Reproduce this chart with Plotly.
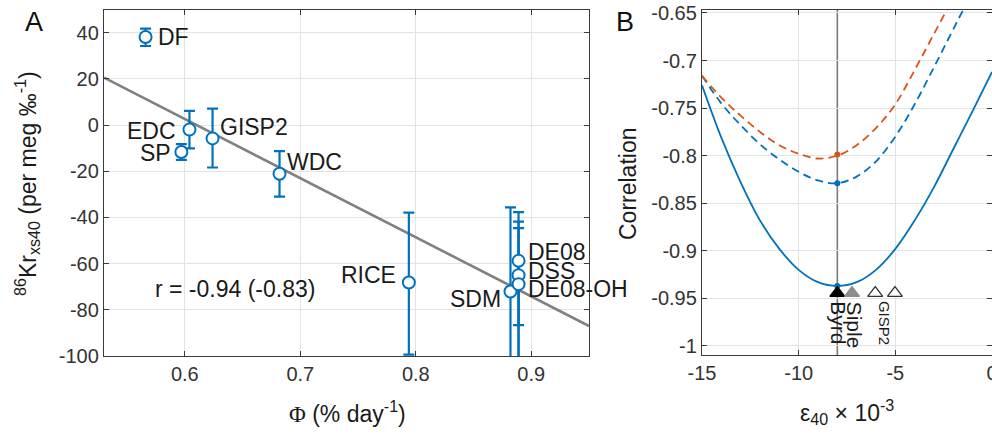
import plotly.graph_objects as go

# ---------------- data: panel A ----------------
sites = ["DF", "EDC", "SP", "GISP2", "WDC", "RICE", "SDM", "DE08", "DSS", "DE08-OH"]
phi = [0.566, 0.604, 0.597, 0.624, 0.682, 0.794, 0.882, 0.889, 0.889, 0.889]
kr_xs = [38.1, -2.0, -11.7, -5.8, -21.1, -68.2, -72.1, -58.8, -65.0, -68.9]
err_plus = [3.6, 8.1, 3.4, 12.9, 9.8, 30.3, 36.4, 21.1, 20.4, 27.1]
err_minus = [3.9, 8.1, 3.4, 12.6, 9.9, 31.2, 36.4, 45.0, 21.6, 35.0]
fit_slope = -256.0
fit_intercept = 156.2
r_text = "r = -0.94 (-0.83)"

# ---------------- data: panel B ----------------
eps = [-15, -14, -13, -12, -11, -10, -9, -8, -7, -6, -5, -4, -3, -2, -1, 0]
corr_solid = [-0.726, -0.781, -0.828, -0.868, -0.898, -0.920, -0.933, -0.937,
              -0.933, -0.920, -0.898, -0.868, -0.833, -0.793, -0.753, -0.712]
eps_dash_blue = [-15, -14, -13, -12, -11, -10, -9, -8, -7, -6, -5, -4, -3, -2, -1]
corr_dash_blue = [-0.716, -0.745, -0.768, -0.788, -0.804, -0.817, -0.826, -0.829,
                  -0.822, -0.806, -0.780, -0.746, -0.707, -0.667, -0.627]
eps_dash_orange = [-15, -14, -13, -12, -11, -10, -9, -8, -7, -6, -5, -4, -3, -2]
corr_dash_orange = [-0.716, -0.739, -0.758, -0.775, -0.789, -0.798, -0.803, -0.800,
                    -0.789, -0.771, -0.746, -0.710, -0.672, -0.634]
eps_best = -8.0
best_solid = -0.937
best_dash_blue = -0.829
best_dash_orange = -0.7988
station_names = ["Byrd", "Siple", "GISP2", ""]
station_eps = [-8.0, -7.24, -6.04, -5.02]
station_level = -0.9445

# tick labels
a_xticks = [0.6, 0.7, 0.8, 0.9]
a_yticks = [-100, -80, -60, -40, -20, 0, 20, 40]
b_xticks = [-15, -10, -5, 0]
b_yticks = [-1, -0.95, -0.9, -0.85, -0.8, -0.75, -0.7, -0.65]

# ---------------- style / layout ----------------
BLUE = "#0072BD"
ORANGE = "#D95319"
AXC = "#3a3a3a"
GRID = "#e3e3e3"
FONT = "Liberation Sans, Arial, sans-serif"
A_XRANGE = [0.53, 0.95]
A_YRANGE = [-100, 50]
B_XRANGE = [-15, 0]
B_YRANGE = [-1.0095, -0.6464]

W, H = 992, 438


def fx(px):
    return px / W


def fy(py):
    return 1 - py / H


def fmt(v):
    return "%g" % v


fig = go.Figure()

fig.add_trace(go.Scatter(
    x=A_XRANGE, y=[fit_intercept + fit_slope * v for v in A_XRANGE],
    mode="lines", line=dict(color="#808080", width=2.6),
    xaxis="x", yaxis="y", hoverinfo="skip", showlegend=False))

fig.add_trace(go.Scatter(
    x=phi, y=kr_xs, mode="markers",
    error_y=dict(type="data", symmetric=False, array=err_plus, arrayminus=err_minus,
                 color=BLUE, thickness=2.2, width=5.5),
    marker=dict(size=12, color="white", line=dict(color=BLUE, width=2)),
    xaxis="x", yaxis="y", showlegend=False))

fig.add_trace(go.Scatter(x=eps, y=corr_solid, mode="lines",
                         line=dict(color=BLUE, width=1.8, shape="spline", smoothing=1.0),
                         xaxis="x2", yaxis="y2", showlegend=False))
fig.add_trace(go.Scatter(x=eps_dash_blue, y=corr_dash_blue, mode="lines",
                         line=dict(color=BLUE, width=1.8, dash="8px,5px", shape="spline", smoothing=1.0),
                         xaxis="x2", yaxis="y2", showlegend=False))
fig.add_trace(go.Scatter(x=eps_dash_orange, y=corr_dash_orange, mode="lines",
                         line=dict(color=ORANGE, width=1.8, dash="8px,5px", shape="spline", smoothing=1.0),
                         xaxis="x2", yaxis="y2", showlegend=False))
fig.add_trace(go.Scatter(x=[eps_best, eps_best, eps_best],
                         y=[best_solid, best_dash_blue, best_dash_orange], mode="markers",
                         marker=dict(size=6, color=[BLUE, BLUE, ORANGE]),
                         xaxis="x2", yaxis="y2", showlegend=False))
fig.add_trace(go.Scatter(x=station_eps, y=[station_level] * len(station_eps), mode="markers",
                         marker=dict(symbol="triangle-up", size=13,
                                     color=["black", "#8c8c8c", "white", "white"],
                                     line=dict(color=["black", "#8c8c8c", "#333333", "#333333"], width=1.3)),
                         xaxis="x2", yaxis="y2", showlegend=False))

fig.add_shape(type="line", x0=eps_best, x1=eps_best, xref="x2", y0=0, y1=1, yref="y2 domain",
              line=dict(color="#7a7a7a", width=1.6), layer="below")

annotations = []
label_style = {
    "DF": dict(xanchor="left", xshift=11, yshift=0),
    "EDC": dict(xanchor="right", xshift=-12, yshift=-1),
    "SP": dict(xanchor="right", xshift=-9, yshift=-1),
    "GISP2": dict(xanchor="left", xshift=6, yshift=11),
    "WDC": dict(xanchor="left", xshift=6, yshift=12),
    "RICE": dict(xanchor="right", xshift=-12, yshift=8),
    "SDM": dict(xanchor="right", xshift=-8, yshift=-7),
    "DE08": dict(xanchor="left", xshift=8, yshift=9),
    "DSS": dict(xanchor="left", xshift=8, yshift=4),
    "DE08-OH": dict(xanchor="left", xshift=8, yshift=-5),
}
for name, xv, yv in zip(sites, phi, kr_xs):
    st = label_style[name]
    annotations.append(dict(x=xv, y=yv, xref="x", yref="y", text=name, showarrow=False,
                            xanchor=st["xanchor"], yanchor="middle", xshift=st["xshift"],
                            yshift=st["yshift"], borderpad=0,
                            font=dict(size=23, color="#1a1a1a", family=FONT)))
annotations.append(dict(x=0.6434, y=-71, xref="x", yref="y", text=r_text, showarrow=False,
                        xanchor="center", yanchor="middle",
                        font=dict(size=23, color="#1a1a1a", family=FONT)))

station_font = [21, 21, 15, 15]
station_shift = [1, 2, 10, 0]
for name, xv, fs, sh in zip(station_names, station_eps, station_font, station_shift):
    if not name:
        continue
    annotations.append(dict(x=xv, y=station_level, xref="x2", yref="y2", text=name, showarrow=False,
                            textangle=90, xanchor="center", yanchor="top", xshift=sh, yshift=-7,
                            borderpad=0, font=dict(size=fs, color="#1a1a1a", family=FONT)))

annotations += [
    dict(x=fx(27), y=fy(184), xref="paper", yref="paper", showarrow=False, textangle=-90,
         text="<sup>86</sup>Kr<sub>xs40</sub> (per meg ‰<sup>-1</sup>)",
         font=dict(size=23, color="#1a1a1a", family=FONT), xanchor="center", yanchor="middle"),
    dict(x=fx(347), y=fy(412), xref="paper", yref="paper", showarrow=False,
         text="<span style=\"font-family:'Liberation Serif', serif\">Φ</span> (% day<sup>-1</sup>)",
         font=dict(size=23, color="#1a1a1a", family=FONT), xanchor="center", yanchor="middle"),
    dict(x=fx(628), y=fy(184), xref="paper", yref="paper", showarrow=False, textangle=-90,
         text="Correlation", font=dict(size=23, color="#1a1a1a", family=FONT),
         xanchor="center", yanchor="middle"),
    dict(x=fx(847), y=fy(412), xref="paper", yref="paper", showarrow=False,
         text="ε<sub>40</sub> × 10<sup>-3</sup>", font=dict(size=23, color="#1a1a1a", family=FONT),
         xanchor="center", yanchor="middle"),
    dict(x=fx(34), y=fy(22), xref="paper", yref="paper", showarrow=False, text="A",
         font=dict(size=27, color="#111111", family=FONT), xanchor="center", yanchor="middle"),
    dict(x=fx(625), y=fy(22), xref="paper", yref="paper", showarrow=False, text="B",
         font=dict(size=27, color="#111111", family=FONT), xanchor="center", yanchor="middle"),
]

axis_common = dict(showgrid=True, gridcolor=GRID, gridwidth=1, zeroline=False,
                   showline=True, linecolor=AXC, linewidth=1.3, mirror="ticks",
                   ticks="inside", ticklen=5, tickwidth=1.2, tickcolor=AXC,
                   automargin=False, ticklabeloverflow="allow",
                   tickfont=dict(size=20, color="#333333", family=FONT))

fig.update_layout(
    width=W, height=H,
    margin=dict(l=0, r=0, t=0, b=0, pad=0, autoexpand=False),
    paper_bgcolor="white", plot_bgcolor="white",
    showlegend=False,
    annotations=annotations,
    xaxis=dict(domain=[fx(104), fx(589)], range=A_XRANGE, anchor="y",
               tickvals=a_xticks, ticktext=[fmt(v) for v in a_xticks], **axis_common),
    yaxis=dict(domain=[fy(356), fy(9.5)], range=A_YRANGE, anchor="x",
               tickvals=a_yticks, ticktext=[fmt(v) for v in a_yticks], **axis_common),
    xaxis2=dict(domain=[fx(702), 1.0], range=B_XRANGE, anchor="y2",
                tickvals=b_xticks, ticktext=[fmt(v) for v in b_xticks], **axis_common),
    yaxis2=dict(domain=[fy(355), fy(9.5)], range=B_YRANGE, anchor="x2",
                tickvals=b_yticks, ticktext=[fmt(v) for v in b_yticks], **axis_common),
)

# remove the default 8px page margin so the figure fills the window exactly
fig.write_html("out.html", config={"displayModeBar": False},
               post_script="document.body.style.margin='0';document.body.style.overflow='hidden';")
